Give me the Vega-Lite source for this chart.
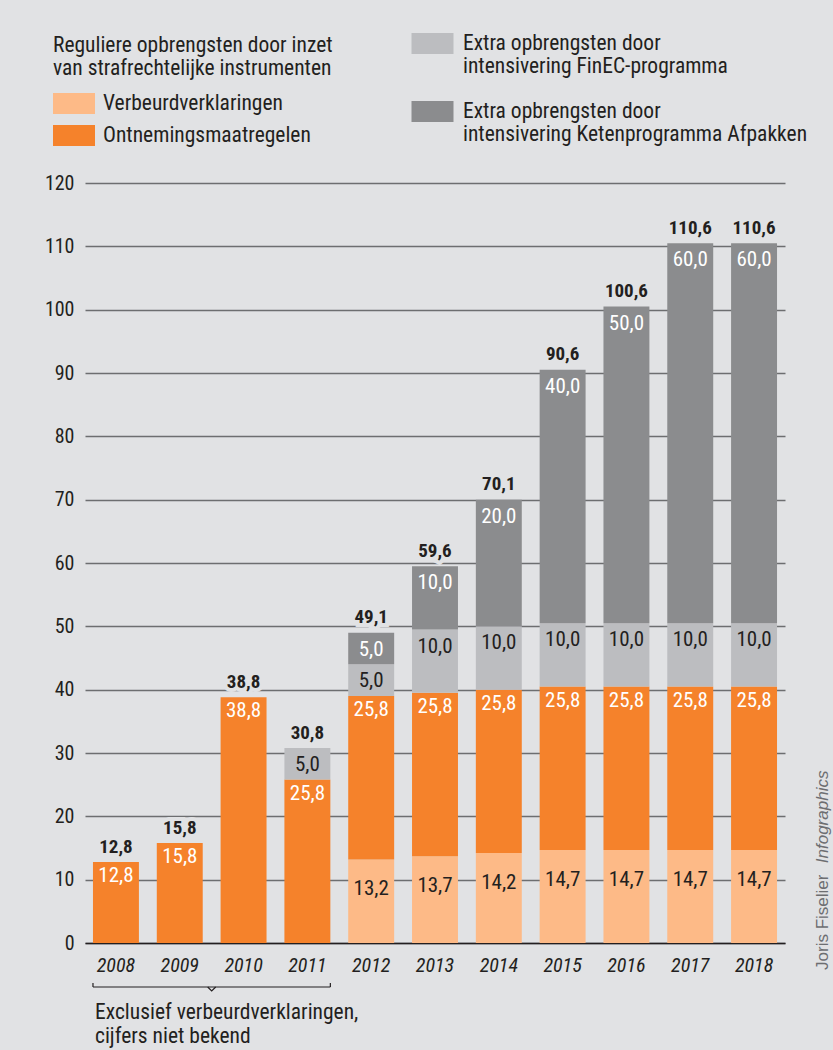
{
  "$schema": "https://vega.github.io/schema/vega-lite/v6.json",
  "width": 700,
  "height": 760,
  "autosize": {"type": "none"},
  "padding": {"left": 85, "top": 183, "right": 48, "bottom": 107},
  "background": "#e1e2e4",
  "config": {
    "locale": {"number": {"decimal": ",", "thousands": ".", "grouping": [3], "currency": ["€", ""]}},
    "font": "Liberation Sans Narrow, Roboto Condensed, DejaVu Sans Condensed, sans-serif",
    "view": {"stroke": null},
    "axisY": {"grid": true, "gridColor": "#6d6e70", "gridWidth": 1.5, "domain": false, "ticks": false, "labelFontSize": 20, "labelColor": "#231f20", "labelPadding": 11, "title": null},
    "axisX": {"labelAngle": 0, "labelFontSize": 20, "labelFontStyle": "italic", "labelColor": "#231f20", "labelPadding": 12, "ticks": false, "domainColor": "#231f20", "domainWidth": 1.5, "title": null, "grid": false}
  },
  "data": {"values": [
    {"year": "2008", "Verbeurdverklaringen": null, "Ontnemingsmaatregelen": 12.8, "Extra opbrengsten door intensivering FinEC-programma": null, "Extra opbrengsten door intensivering Ketenprogramma Afpakken": null, "total": 12.8},
    {"year": "2009", "Verbeurdverklaringen": null, "Ontnemingsmaatregelen": 15.8, "Extra opbrengsten door intensivering FinEC-programma": null, "Extra opbrengsten door intensivering Ketenprogramma Afpakken": null, "total": 15.8},
    {"year": "2010", "Verbeurdverklaringen": null, "Ontnemingsmaatregelen": 38.8, "Extra opbrengsten door intensivering FinEC-programma": null, "Extra opbrengsten door intensivering Ketenprogramma Afpakken": null, "total": 38.8},
    {"year": "2011", "Verbeurdverklaringen": null, "Ontnemingsmaatregelen": 25.8, "Extra opbrengsten door intensivering FinEC-programma": 5.0, "Extra opbrengsten door intensivering Ketenprogramma Afpakken": null, "total": 30.8},
    {"year": "2012", "Verbeurdverklaringen": 13.2, "Ontnemingsmaatregelen": 25.8, "Extra opbrengsten door intensivering FinEC-programma": 5.0, "Extra opbrengsten door intensivering Ketenprogramma Afpakken": 5.0, "total": 49.1},
    {"year": "2013", "Verbeurdverklaringen": 13.7, "Ontnemingsmaatregelen": 25.8, "Extra opbrengsten door intensivering FinEC-programma": 10.0, "Extra opbrengsten door intensivering Ketenprogramma Afpakken": 10.0, "total": 59.6},
    {"year": "2014", "Verbeurdverklaringen": 14.2, "Ontnemingsmaatregelen": 25.8, "Extra opbrengsten door intensivering FinEC-programma": 10.0, "Extra opbrengsten door intensivering Ketenprogramma Afpakken": 20.0, "total": 70.1},
    {"year": "2015", "Verbeurdverklaringen": 14.7, "Ontnemingsmaatregelen": 25.8, "Extra opbrengsten door intensivering FinEC-programma": 10.0, "Extra opbrengsten door intensivering Ketenprogramma Afpakken": 40.0, "total": 90.6},
    {"year": "2016", "Verbeurdverklaringen": 14.7, "Ontnemingsmaatregelen": 25.8, "Extra opbrengsten door intensivering FinEC-programma": 10.0, "Extra opbrengsten door intensivering Ketenprogramma Afpakken": 50.0, "total": 100.6},
    {"year": "2017", "Verbeurdverklaringen": 14.7, "Ontnemingsmaatregelen": 25.8, "Extra opbrengsten door intensivering FinEC-programma": 10.0, "Extra opbrengsten door intensivering Ketenprogramma Afpakken": 60.0, "total": 110.6},
    {"year": "2018", "Verbeurdverklaringen": 14.7, "Ontnemingsmaatregelen": 25.8, "Extra opbrengsten door intensivering FinEC-programma": 10.0, "Extra opbrengsten door intensivering Ketenprogramma Afpakken": 60.0, "total": 110.6}
  ]},
  "encoding": {
    "x": {"field": "year", "type": "ordinal", "scale": {"domain": ["2008","2009","2010","2011","2012","2013","2014","2015","2016","2017","2018"], "paddingInner": 0.28, "paddingOuter": 0.125}, "axis": {}}
  },
  "layer": [
    {
      "transform": [
        {"fold": ["Verbeurdverklaringen", "Ontnemingsmaatregelen", "Extra opbrengsten door intensivering FinEC-programma", "Extra opbrengsten door intensivering Ketenprogramma Afpakken"], "as": ["cat", "value"]},
        {"filter": "isValid(datum.value)"},
        {"stack": "value", "groupby": ["year"], "as": ["y0", "y1"]}
      ],
      "mark": {"type": "bar", "strokeWidth": 0},
      "encoding": {
        "y": {"field": "y1", "type": "quantitative", "scale": {"domain": [0, 120], "nice": false}, "axis": {"values": [0,10,20,30,40,50,60,70,80,90,100,110,120]}},
        "y2": {"field": "y0"},
        "fill": {"field": "cat", "type": "nominal",
          "scale": {"domain": ["Verbeurdverklaringen", "Ontnemingsmaatregelen", "Extra opbrengsten door intensivering FinEC-programma", "Extra opbrengsten door intensivering Ketenprogramma Afpakken"], "range": ["#fdba87", "#f5822b", "#bcbdc0", "#8b8c8e"]},
          "legend": {"values": ["Verbeurdverklaringen", "Ontnemingsmaatregelen"], "title": ["Reguliere opbrengsten door inzet", "van strafrechtelijke instrumenten"], "orient": "none", "legendX": -32, "legendY": -148, "symbolType": "M-1,-0.5H1V0.5H-1Z", "symbolSize": 1764, "symbolStrokeWidth": 0, "symbolOpacity": 1, "labelFontSize": 21.5, "labelColor": "#231f20", "labelOffset": 8, "labelLimit": 400, "titleFontSize": 21.5, "titleFontWeight": "normal", "titleColor": "#231f20", "titleLineHeight": 23, "titlePadding": 3, "titleLimit": 500, "rowPadding": -11, "padding": 0}
        },
        "stroke": {"field": "cat", "type": "nominal",
          "scale": {"domain": ["Extra opbrengsten door intensivering FinEC-programma", "Extra opbrengsten door intensivering Ketenprogramma Afpakken"], "range": ["#bcbdc0", "#8b8c8e"]},
          "legend": {"values": ["Extra opbrengsten door intensivering FinEC-programma", "Extra opbrengsten door intensivering Ketenprogramma Afpakken"], "title": null, "orient": "none", "legendX": 316, "legendY": -165, "symbolType": "M-1,-0.29H1", "symbolSize": 1764, "symbolStrokeWidth": 21, "symbolOpacity": 1, "labelFontSize": 21.5, "labelColor": "#231f20", "labelOffset": -1, "labelLimit": 400, "labelBaseline": "alphabetic", "labelExpr": "split(replace(datum.label, ' door ', ' door|'), '|')", "rowPadding": -36, "padding": 0}
        }
      }
    },
    {
      "mark": {"type": "text", "fontWeight": "bold", "fontSize": 19, "dy": -15, "fill": "#e1e2e4", "stroke": "#e1e2e4", "strokeWidth": 8},
      "encoding": {"y": {"field": "total", "type": "quantitative"}, "text": {"field": "total", "type": "quantitative", "format": ".1f"}}
    },
    {
      "mark": {"type": "text", "fontWeight": "bold", "fontSize": 19, "dy": -15, "fill": "#231f20"},
      "encoding": {"y": {"field": "total", "type": "quantitative"}, "text": {"field": "total", "type": "quantitative", "format": ".1f"}}
    },
    {
      "transform": [
        {"fold": ["Verbeurdverklaringen", "Ontnemingsmaatregelen", "Extra opbrengsten door intensivering FinEC-programma", "Extra opbrengsten door intensivering Ketenprogramma Afpakken"], "as": ["cat", "value"]},
        {"filter": "isValid(datum.value)"},
        {"stack": "value", "groupby": ["year"], "as": ["y0", "y1"]},
        {"filter": "datum.cat === 'Verbeurdverklaringen'"}
      ],
      "mark": {"type": "text", "fontSize": 21, "dy": 30, "fill": "#231f20"},
      "encoding": {"y": {"field": "y1", "type": "quantitative"}, "text": {"field": "value", "type": "quantitative", "format": ".1f"}}
    },
    {
      "transform": [
        {"fold": ["Verbeurdverklaringen", "Ontnemingsmaatregelen", "Extra opbrengsten door intensivering FinEC-programma", "Extra opbrengsten door intensivering Ketenprogramma Afpakken"], "as": ["cat", "value"]},
        {"filter": "isValid(datum.value)"},
        {"stack": "value", "groupby": ["year"], "as": ["y0", "y1"]},
        {"filter": "datum.cat === 'Ontnemingsmaatregelen'"}
      ],
      "mark": {"type": "text", "fontSize": 21, "dy": 14, "fill": "#ffffff"},
      "encoding": {"y": {"field": "y1", "type": "quantitative"}, "text": {"field": "value", "type": "quantitative", "format": ".1f"}}
    },
    {
      "transform": [
        {"fold": ["Verbeurdverklaringen", "Ontnemingsmaatregelen", "Extra opbrengsten door intensivering FinEC-programma", "Extra opbrengsten door intensivering Ketenprogramma Afpakken"], "as": ["cat", "value"]},
        {"filter": "isValid(datum.value)"},
        {"stack": "value", "groupby": ["year"], "as": ["y0", "y1"]},
        {"filter": "datum.cat === 'Extra opbrengsten door intensivering FinEC-programma'"}
      ],
      "mark": {"type": "text", "fontSize": 21, "dy": 17, "fill": "#231f20"},
      "encoding": {"y": {"field": "y1", "type": "quantitative"}, "text": {"field": "value", "type": "quantitative", "format": ".1f"}}
    },
    {
      "transform": [
        {"fold": ["Verbeurdverklaringen", "Ontnemingsmaatregelen", "Extra opbrengsten door intensivering FinEC-programma", "Extra opbrengsten door intensivering Ketenprogramma Afpakken"], "as": ["cat", "value"]},
        {"filter": "isValid(datum.value)"},
        {"stack": "value", "groupby": ["year"], "as": ["y0", "y1"]},
        {"filter": "datum.cat === 'Extra opbrengsten door intensivering Ketenprogramma Afpakken'"}
      ],
      "mark": {"type": "text", "fontSize": 21, "dy": 17, "fill": "#ffffff"},
      "encoding": {"y": {"field": "y1", "type": "quantitative"}, "text": {"field": "value", "type": "quantitative", "format": ".1f"}}
    },
    {
      "data": {"values": [{"from": "2008", "to": "2011"}]},
      "layer": [
        {
          "mark": {"type": "rule", "color": "#231f20", "strokeWidth": 1.2},
          "encoding": {
            "x": {"field": "from", "type": "ordinal", "bandPosition": 0},
            "x2": {"field": "to", "bandPosition": 1},
            "y": {"datum": -6.95}
          }
        },
        {
          "mark": {"type": "rule", "color": "#231f20", "strokeWidth": 1.2},
          "encoding": {
            "x": {"field": "from", "type": "ordinal", "bandPosition": 0},
            "y": {"datum": -6.95},
            "y2": {"datum": -6.3}
          }
        },
        {
          "mark": {"type": "rule", "color": "#231f20", "strokeWidth": 1.2},
          "encoding": {
            "x": {"field": "to", "type": "ordinal", "bandPosition": 1},
            "y": {"datum": -6.95},
            "y2": {"datum": -6.3}
          }
        },
        {
          "mark": {"type": "point", "shape": "M-1,0L0,1L1,0", "filled": false, "size": 64, "stroke": "#231f20", "strokeWidth": 1.2, "opacity": 1, "xOffset": -8.9},
          "encoding": {
            "x": {"datum": "2010", "type": "ordinal", "bandPosition": 0},
            "y": {"datum": -6.95}
          }
        },
        {
          "mark": {"type": "text", "align": "left", "baseline": "top", "fontSize": 21.5, "lineHeight": 24, "color": "#231f20", "dx": 2},
          "encoding": {
            "x": {"field": "from", "type": "ordinal", "bandPosition": 0},
            "y": {"datum": -9.3},
            "text": {"value": ["Exclusief verbeurdverklaringen,", "cijfers niet bekend"]}
          }
        },
        {
          "mark": {"type": "text", "align": "left", "baseline": "alphabetic", "angle": 270, "font": "Liberation Sans, Arial, sans-serif", "fontSize": 17, "color": "#6d6e71", "xOffset": 51},
          "encoding": {
            "x": {"datum": "2018", "type": "ordinal", "bandPosition": 1},
            "y": {"datum": -4.26},
            "text": {"value": "Joris Fiselier"}
          }
        },
        {
          "mark": {"type": "text", "align": "left", "baseline": "alphabetic", "angle": 270, "font": "Liberation Sans, Arial, sans-serif", "fontSize": 17, "fontStyle": "italic", "color": "#6d6e71", "xOffset": 51},
          "encoding": {
            "x": {"datum": "2018", "type": "ordinal", "bandPosition": 1},
            "y": {"datum": 12.6},
            "text": {"value": "Infographics"}
          }
        }
      ]
    }
  ]
}
